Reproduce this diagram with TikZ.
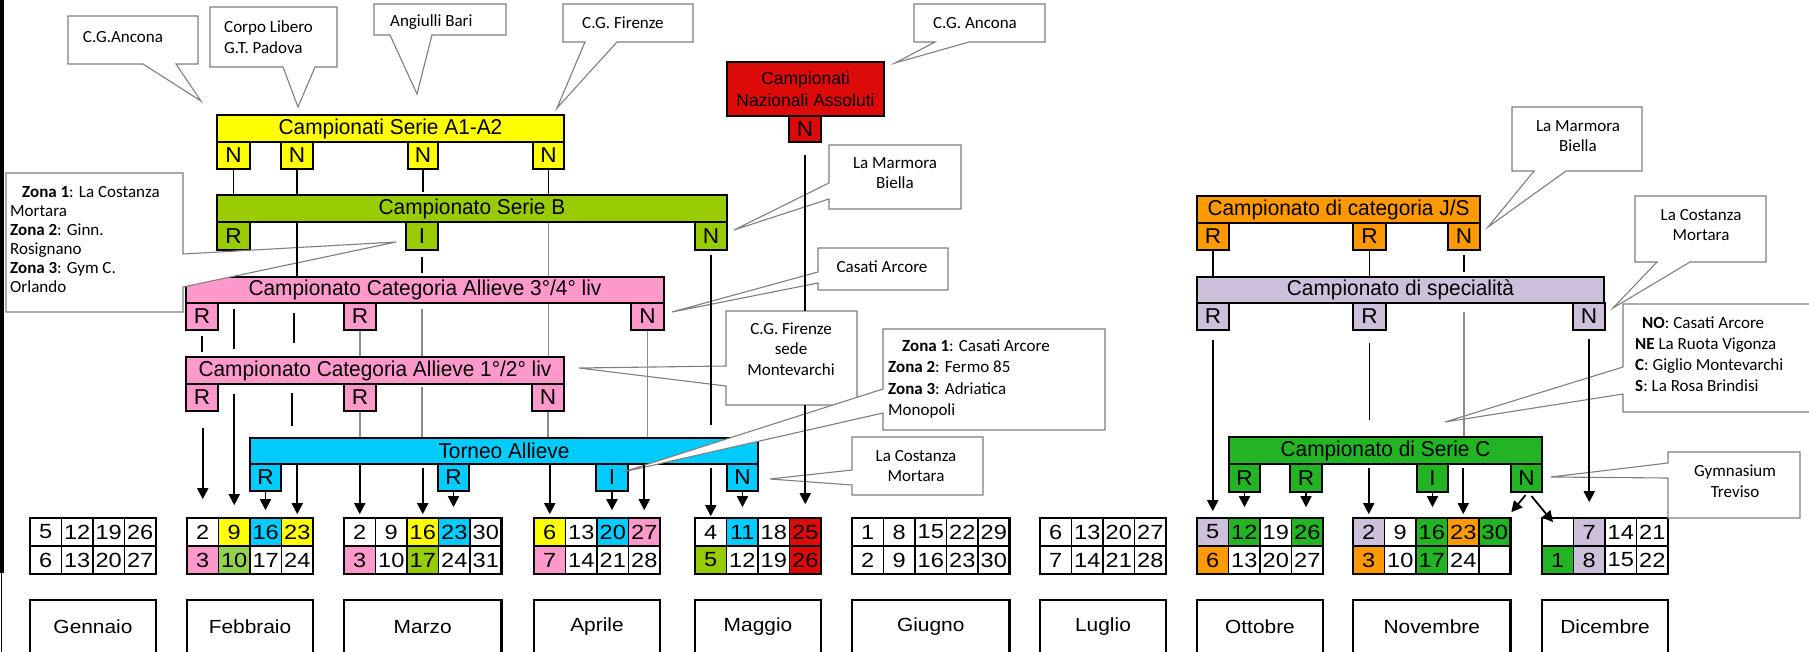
\documentclass[tikz,border=0pt]{standalone}
\usepackage{fontspec}
\setmainfont{Liberation Sans}
\newfontfamily\clb{Carlito}
\newfontfamily\ttlf[FakeStretch=0.97]{Liberation Sans}
\newfontfamily\digf[FakeStretch=1.15]{Liberation Sans}
\newfontfamily\labf[FakeStretch=1.1]{Liberation Sans}
\newfontfamily\letf[FakeStretch=1.05]{Liberation Sans}
\usetikzlibrary{arrows.meta,calc}
\definecolor{cYel}{HTML}{FFFF00}
\definecolor{cGrB}{HTML}{99CC00}
\definecolor{cPink}{HTML}{FF99CC}
\definecolor{cCyan}{HTML}{00CCFF}
\definecolor{cRed}{HTML}{DD0A0A}
\definecolor{cOr}{HTML}{FF9900}
\definecolor{cLav}{HTML}{CCC0DA}
\definecolor{cGrC}{HTML}{22B422}
\definecolor{cLtG}{HTML}{92D050}
\definecolor{cGry}{HTML}{8C8C8C}
\definecolor{cCo}{HTML}{7F7F7F}
\tikzset{
  bx/.style={draw=black, line width=2.2pt, inner sep=0pt, align=center, font=\ttlf\fontsize{21.5}{26}\selectfont},
  lt/.style={font=\letf\fontsize{21.5}{24}\selectfont},
  cell/.style={draw=black, line width=1.6pt, inner sep=0pt, minimum width=31.5pt, minimum height=28pt, font=\digf\fontsize{20.5}{24}\selectfont},
  mbox/.style={draw=black, line width=2.2pt, fill=white},
  mlab/.style={font=\labf\fontsize{19}{24}\selectfont, inner sep=0pt},
  ln/.style={draw=black, line width=1.8pt},
  gln/.style={draw=cGry, line width=1.6pt},
  arr/.style={ln, -{Triangle[width=11pt,length=11pt]}},
  co/.style={draw=cCo, fill=white, line width=1.1pt, line join=miter},
  cot/.style={font=\clb\fontsize{17}{20.5}\selectfont, inner sep=0pt},
}
\newcommand{\mkbox}[8][]{%
  \pgfmathsetmacro{\rbcx}{(#3+#5)/2}%
  \pgfmathsetmacro{\rbcy}{(#4+#6)/2}%
  \pgfmathsetmacro{\rbw}{#5-#3}%
  \pgfmathsetmacro{\rbh}{#6-#4}%
  \node[bx, #1, fill=#7, minimum width=\rbw pt, minimum height=\rbh pt] (#2) at (\rbcx,\rbcy) {#8};}
\newcommand{\calm}[6]{%
  \foreach \cc/\nn [count=\ci] in {#4} {\node[cell, fill=\cc] (#1a\ci) at ({#2+(\ci-0.5)*31.5},532) {\nn};}
  \foreach \cc/\nn [count=\ci] in {#5} {\node[cell, fill=\cc] (#1b\ci) at ({#2+(\ci-0.5)*31.5},560) {\nn};}
  \draw[line width=2.4pt] (#2,518) rectangle ({#2+#3*31.5},574);
  \draw[mbox] (#2,600) rectangle ({#2+#3*31.5},668);
  \node[mlab] (#1lab) at ({#2+#3*15.75},627) {#6};}
% callout with wedge on bottom: x1,y1,x2,y2,b1,b2,tx,ty
\newcommand{\myCoB}[8]{\filldraw[co] (#1,#2) -- (#3,#2) -- (#3,#4) -- (#6,#4) -- (#7,#8) -- (#5,#4) -- (#1,#4) -- cycle;}
% wedge on left side: x1,y1,x2,y2,b1,b2,tx,ty
\newcommand{\myCoL}[8]{\filldraw[co] (#1,#2) -- (#3,#2) -- (#3,#4) -- (#1,#4) -- (#1,#6) -- (#7,#8) -- (#1,#5) -- cycle;}
% wedge on right side
\newcommand{\myCoR}[8]{\filldraw[co] (#1,#2) -- (#3,#2) -- (#3,#5) -- (#7,#8) -- (#3,#6) -- (#3,#4) -- (#1,#4) -- cycle;}
\begin{document}
\begin{tikzpicture}[x=1pt,y=-1pt]
\useasboundingbox (0,0) rectangle (1809,651);
\fill[white] (0,0) rectangle (1809,651);
\fill[black] (0,0) rectangle (3.5,573);
\draw[line width=1.5pt] (1.5,573) -- (1.5,655);

% ---- coloured boxes
\mkbox{A}{217}{115}{564}{142}{cYel}{Campionati Serie A1-A2}
\mkbox[lt]{A1}{217}{142}{250}{169}{cYel}{N}
\mkbox[lt]{A2}{281}{142}{313}{169}{cYel}{N}
\mkbox[lt]{A3}{408}{142}{438}{169}{cYel}{N}
\mkbox[lt]{A4}{533}{142}{564}{169}{cYel}{N}

\mkbox{B}{217}{195}{727}{222}{cGrB}{Campionato Serie B}
\mkbox[lt]{B1}{217}{222}{250}{250}{cGrB}{R}
\mkbox[lt]{B2}{406}{222}{438}{250}{cGrB}{I}
\mkbox[lt]{B3}{695}{222}{727}{250}{cGrB}{N}

\mkbox{C}{186}{277}{664}{303}{cPink}{Campionato Categoria Allieve 3°/4° liv}
\mkbox[lt]{C1}{186}{303}{218}{330}{cPink}{R}
\mkbox[lt]{C2}{344}{303}{376}{330}{cPink}{R}
\mkbox[lt]{C3}{631}{303}{664}{330}{cPink}{N}

\mkbox{D}{186}{357}{564}{384}{cPink}{Campionato Categoria Allieve 1°/2° liv}
\mkbox[lt]{D1}{186}{384}{218}{411}{cPink}{R}
\mkbox[lt]{D2}{344}{384}{376}{411}{cPink}{R}
\mkbox[lt]{D3}{532}{384}{564}{411}{cPink}{N}

\mkbox{T}{250}{438}{758}{464}{cCyan}{Torneo Allieve}
\mkbox[lt]{T1}{250}{464}{281}{491}{cCyan}{R}
\mkbox[lt]{T2}{438}{464}{469}{491}{cCyan}{R}
\mkbox[lt]{T3}{596}{464}{628}{491}{cCyan}{I}
\mkbox[lt]{T4}{727}{464}{758}{491}{cCyan}{N}

\node[bx, fill=cRed, font=\fontsize{17.5}{22}\selectfont, minimum width=157pt, minimum height=54pt] (RA) at (805.5,89) {Campionati\\Nazionali Assoluti};
\mkbox[lt]{RN}{789}{116}{821}{142}{cRed}{N}

\mkbox{J}{1197}{196}{1480}{223}{cOr}{Campionato di categoria J/S}
\mkbox[lt]{J1}{1197}{223}{1229}{250}{cOr}{R}
\mkbox[lt]{J2}{1353}{223}{1386}{250}{cOr}{R}
\mkbox[lt]{J3}{1448}{223}{1480}{250}{cOr}{N}

\mkbox{S}{1197}{277}{1604}{303}{cLav}{Campionato di specialità}
\mkbox[lt]{S1}{1197}{303}{1229}{330}{cLav}{R}
\mkbox[lt]{S2}{1353}{303}{1386}{330}{cLav}{R}
\mkbox[lt]{S3}{1573}{303}{1605}{330}{cLav}{N}

\mkbox{K}{1229}{437}{1542}{464}{cGrC}{Campionato di Serie C}
\mkbox[lt]{K1}{1229}{464}{1260}{492}{cGrC}{R}
\mkbox[lt]{K2}{1290}{464}{1322}{492}{cGrC}{R}
\mkbox[lt]{K3}{1417}{464}{1448}{492}{cGrC}{I}
\mkbox[lt]{K4}{1511}{464}{1542}{492}{cGrC}{N}

% ---- calendar
\calm{gen}{30}{4}{white/5,white/12,white/19,white/26}{white/6,white/13,white/20,white/27}{Gennaio}
\calm{feb}{187}{4}{white/2,cYel/9,cCyan/16,cYel/23}{cPink/3,cLtG/10,white/17,white/24}{Febbraio}
\calm{mar}{344}{5}{white/2,white/9,cYel/16,cCyan/23,white/30}{cPink/3,white/10,cGrB/17,white/24,white/31}{Marzo}
\calm{apr}{534}{4}{cYel/6,white/13,cCyan/20,cPink/27}{cPink/7,white/14,white/21,white/28}{Aprile}
\calm{mag}{695}{4}{white/4,cCyan/11,white/18,cRed/25}{cGrB/5,white/12,white/19,cRed/26}{Maggio}
\calm{giu}{852}{5}{white/1,white/8,white/15,white/22,white/29}{white/2,white/9,white/16,white/23,white/30}{Giugno}
\calm{lug}{1040}{4}{white/6,white/13,white/20,white/27}{white/7,white/14,white/21,white/28}{Luglio}
\calm{ott}{1197}{4}{cLav/5,cGrC/12,white/19,cGrC/26}{cOr/6,white/13,white/20,white/27}{Ottobre}
\calm{nov}{1353}{5}{cLav/2,white/9,cGrC/16,cOr/23,cGrC/30}{cOr/3,white/10,cGrC/17,white/24,white/{}}{Novembre}
\calm{dic}{1542}{4}{white/{},cLav/7,white/14,white/21}{cGrC/1,cLav/8,white/15,white/22}{Dicembre}

% ---- callouts
\myCoB{68}{16}{198}{64}{143}{176}{201}{101}
\node[cot] (t1) at (123,37) {C.G.Ancona};
\myCoB{210}{7}{337}{67}{283}{315}{298}{107}
\node[cot, anchor=west, align=left] (t2) at (224,37) {Corpo Libero\\G.T. Padova};
\myCoB{374}{4}{506}{35}{390}{432}{417}{94}
\node[cot, anchor=west] (t3) at (390,22) {Angiulli Bari};
\myCoB{563}{4}{693}{42}{585}{617}{557}{108}
\node[cot, anchor=west] (t4) at (582,23) {C.G. Firenze};
\myCoB{914}{4}{1045}{42}{935}{969}{895}{63}
\node[cot] (t5) at (975,23) {C.G. Ancona};
\myCoL{829}{145}{961}{209}{183}{199}{734}{230}
\node[cot, align=center] (t6) at (895,173) {La Marmora\\Biella};
\myCoL{818}{248}{948}{290}{272}{283}{672}{312}
\node[cot] (t7) at (882,267) {Casati Arcore};
\myCoL{726}{311}{857}{405}{366}{386}{579}{368}
\node[cot, align=center] (t8) at (791,349) {C.G. Firenze\\sede\\Montevarchi};
\myCoL{883}{329}{1105}{430}{389}{413}{623}{472}
\node[cot, anchor=west, align=left, font=\clb\fontsize{17}{21.3}\selectfont] (t9) at (888,379) {\hspace{14pt}\textbf{Zona 1}: Casati Arcore\\\textbf{Zona 2}: Fermo 85\\\textbf{Zona 3}: Adriatica\\Monopoli};
\myCoL{852}{437}{983}{495}{470}{485}{770}{479}
\node[cot, align=center] (t10) at (916,466) {La Costanza\\Mortara};
\myCoR{6}{173}{183}{312}{254}{287}{396}{242}
\node[cot, anchor=west, align=left, font=\clb\fontsize{17}{19}\selectfont] (t11) at (10,240) {\hspace{12pt}\textbf{Zona 1}: La Costanza\\Mortara\\\textbf{Zona 2}: Ginn.\\Rosignano\\\textbf{Zona 3}: Gym C.\\Orlando};
\myCoB{1512}{107}{1642}{171}{1534}{1566}{1488}{227}
\node[cot, align=center] (t12) at (1578,136) {La Marmora\\Biella};
\myCoB{1635}{196}{1766}{262}{1657}{1690}{1613}{308}
\node[cot, align=center] (t13) at (1701,225) {La Costanza\\Mortara};
\myCoL{1623}{304}{1815}{412}{367}{394}{1445}{422}
\node[cot, anchor=west, align=left, font=\clb\fontsize{17}{21}\selectfont] (t14) at (1635,354) {\hspace{7pt}\textbf{NO}: Casati Arcore\\\textbf{NE} La Ruota Vigonza\\\textbf{C}: Giglio Montevarchi\\\textbf{S}: La Rosa Brindisi};
\myCoL{1668}{452}{1800}{518}{463}{478}{1551}{477}
\node[cot, align=center] (t15) at (1735,481) {Gymnasium\\Treviso};

% ---- connectors, left part
\draw[ln] (A1.south) -- (A1.south |- B.north);
\draw[ln] (A2.south) -- (A2.south |- B.north);
\draw[ln] (A3.south) -- ++(0,22);
\draw[ln] (A4.south) -- (A4.south |- B.north);
\draw[ln] (A2.south |- B.south) -- (A2.south |- C.north);
\draw[ln] (B2.south |- 0,257) -- (B2.south |- 0,273);
\draw[gln] (A4.south |- B.south) -- (A4.south |- C.north);
\draw[ln] (B3.south |- 0,255) -- (B3.south |- 0,425);
\draw[ln] (C1.south |- 0,336) -- (C1.south |- 0,352);
\draw[ln] (234,309) -- (234,349);
\draw[ln] (294,313) -- (294,343);
\draw[gln] (C2.south) -- (C2.south |- D.north);
\draw[gln] (B2.south |- 0,309) -- (B2.south |- D.north);
\draw[gln] (A4.south |- C.south) -- (A4.south |- D.north);
\draw[gln] (C3.south) -- (C3.south |- T.north);
\draw[arr, shorten >=18pt] (feba1.north |- 0,428) -- (feba1.north);
\draw[arr, shorten >=12pt] (feba2.north |- 0,394) -- (feba2.north);
\draw[ln] (292,393) -- (292,426);
\draw[gln] (D2.south) -- (D2.south |- T.north);
\draw[gln] (B2.south |- 0,387) -- (B2.south |- T.north);
\draw[gln] (D3.south) -- (D3.south |- T.north);
\draw[arr, shorten >=7pt] (T1.south) -- (T1.south |- feba3.north);
\draw[arr, shorten >=3pt] (feba4.north |- T.south) -- (feba4.north);
\draw[arr, shorten >=3pt] (mara1.north |- T.south) -- (mara1.north);
\draw[arr, shorten >=3pt] (mara3.north |- 0,468) -- (mara3.north);
\draw[arr, shorten >=10pt] (T2.south) -- (T2.south |- mara4.north);
\draw[arr, shorten >=3pt] (apra1.north |- T.south) -- (apra1.north);
\draw[arr, shorten >=7pt] (T3.south) -- (T3.south |- apra3.north);
\draw[arr, shorten >=7pt] (apra4.north |- T.south) -- (apra4.north);
\draw[arr, shorten >=1pt] (maga1.north |- 0,468) -- (maga1.north);
\draw[arr, shorten >=10pt] (T4.south) -- (T4.south |- maga2.north);
\draw[ln] (RN.south |- 0,155) -- (RN.south |- 0,311);
\draw[arr, shorten >=13pt] (maga4.north |- 0,405) -- (maga4.north);

% ---- connectors, right part
\draw[ln] (J1.south) -- (J1.south |- S.north);
\draw[ln] (J2.south) -- (J2.south |- S.north);
\draw[ln] (J3.south |- 0,255) -- (J3.south |- 0,272);
\draw[arr, shorten >=6pt] (otta1.north |- 0,340) -- (otta1.north);
\draw[ln] (S2.south |- 0,343) -- (S2.south |- 0,420);
\draw[gln] (J3.south |- 0,312) -- (J3.south |- K.north);
\draw[arr, shorten >=15pt] (dica2.north |- 0,339) -- (dica2.north);
\draw[arr, shorten >=10pt] (K1.south) -- (K1.south |- otta2.north);
\draw[arr, shorten >=10pt] (K2.south) -- (K2.south |- otta4.north);
\draw[arr, shorten >=3pt] (nova1.north |- 0,468) -- (nova1.north);
\draw[arr, shorten >=10pt] (K3.south) -- (K3.south |- nova3.north);
\draw[arr, shorten >=3pt] (nova4.north |- 0,468) -- (nova4.north);
\draw[arr] ([xshift=-1pt,yshift=-2pt]K4.south) -- ([yshift=5pt]nova5.north east);
\draw[arr] ([xshift=5pt,yshift=-3pt]K4.south) -- ([xshift=-4.75pt,yshift=-5pt]dica1.north);
\end{tikzpicture}
\end{document}
